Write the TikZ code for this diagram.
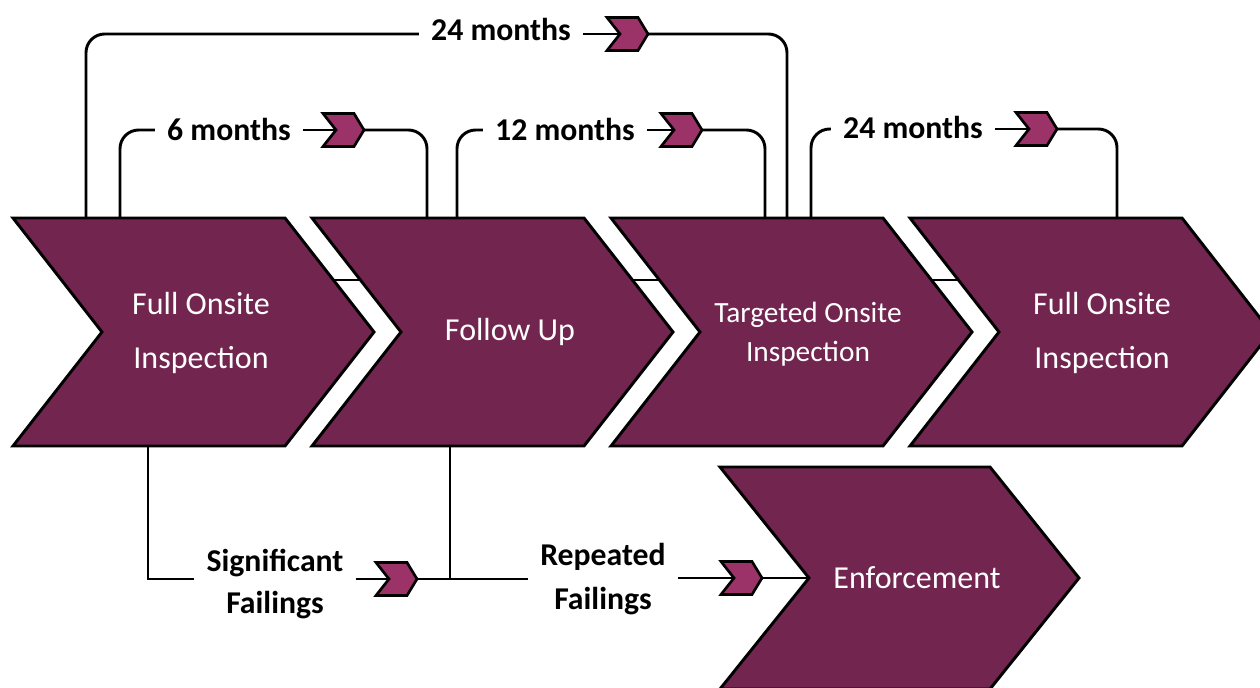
\documentclass[tikz,border=0pt]{standalone}
\usepackage{fontspec}
\setmainfont{Carlito}
\usetikzlibrary{calc}
\definecolor{plum}{HTML}{72264F}
\definecolor{mkcol}{HTML}{9C3368}
\tikzset{
  chev/.style={fill=plum, draw=black, line width=2.2pt, line join=miter},
  mk/.style={fill=mkcol, draw=black, line width=2pt, line join=miter},
  wtxt/.style={text=white, font=\fontsize{24}{40}\selectfont, align=center, inner sep=0pt},
  lbl/.style={text=black, font=\fontsize{23.8}{31.5}\selectfont\bfseries, align=center, inner xsep=9pt, inner ysep=0pt},
  conn/.style={line width=2.2pt, rounded corners=14pt},
  plain/.style={line width=2.2pt},
}
% big chevron: left x, top y, bottom y, flat width, point depth
\newcommand\mychev[5]{\path[chev] (#1,#2) -- ++(#4,0) -- ({#1+#4+#5},{(#2+#3)/2}) -- ({#1+#4},#3) -- (#1,#3) -- ({#1+#5},{(#2+#3)/2}) -- cycle;}
% marker: name, tip x, y
\newcommand\mymark[3]{\path[mk] ({#2-41},{#3-16.5}) -- ({#2-10},{#3-16.5}) -- (#2,#3) -- ({#2-10},{#3+16.5}) -- ({#2-41},{#3+16.5}) -- ({#2-28},#3) -- cycle;
  \coordinate (#1-in) at ({#2-28},#3); \coordinate (#1-out) at (#2,#3);}
\begin{document}
\begin{tikzpicture}[x=0.75pt,y=-0.75pt]
\fill[white] (0,0) rectangle (1260,688);
\clip (0,0) rectangle (1260,688);
% attach points
\coordinate (a24) at (86,218);
\coordinate (a6) at (120,218);
\coordinate (b6) at (427,218);
\coordinate (a12) at (457,218);
\coordinate (b12) at (765,218);
\coordinate (b24) at (787,218);
\coordinate (a24b) at (811,218);
\coordinate (b24b) at (1117,218);
\coordinate (d1) at (148,446);
\coordinate (d2) at (450,446);
\coordinate (j) at (450,579);
\coordinate (enf) at (808,578);
% markers
\mymark{m1}{648}{34}
\mymark{m2}{364}{130}
\mymark{m3}{702}{130}
\mymark{m4}{1057}{129}
\mymark{m5}{417}{579}
\mymark{m6}{762}{578}
% labels
\node[lbl] (l24a) at (501,29) {24 months};
\node[lbl] (l6) at (229,129) {6 months};
\node[lbl] (l12) at (565,129) {12 months};
\node[lbl] (l24b) at (913,127) {24 months};
\node[lbl] (lsig) at (275,584) {Significant\\Failings};
\node[lbl, font=\fontsize{23.8}{33}\selectfont\bfseries] (lrep) at (603,579) {Repeated\\Failings};
% connectors
\draw[conn] (a24) |- (l24a.west |- m1-in);
\draw[plain] (l24a.east |- m1-in) -- (m1-in);
\draw[conn] (m1-out) -| (b24);
\draw[conn] (a6) |- (l6.west |- m2-in);
\draw[plain] (l6.east |- m2-in) -- (m2-in);
\draw[conn] (m2-out) -| (b6);
\draw[conn] (a12) |- (l12.west |- m3-in);
\draw[plain] (l12.east |- m3-in) -- (m3-in);
\draw[conn] (m3-out) -| (b12);
\draw[conn] (a24b) |- (l24b.west |- m4-in);
\draw[plain] (l24b.east |- m4-in) -- (m4-in);
\draw[conn] (m4-out) -| (b24b);
\draw[plain] (d1) |- (lsig.west |- m5-in);
\draw[plain] (lsig.east |- m5-in) -- (m5-in);
\draw[plain] (d2) -- (j);
\draw[plain] (m5-out) -- (j) -- (lrep.west |- j);
\draw[plain] (lrep.east |- m6-in) -- (m6-in);
\draw[plain] (m6-out) -- (enf);
% chevrons
\mychev{13}{218}{446}{272}{89}
\mychev{312}{218}{446}{272}{89}
\mychev{611}{218}{446}{272}{89}
\mychev{910}{218}{446}{272}{89}
\mychev{720}{467}{689}{270}{89}
\foreach \ox in {13,312,611}{\draw[plain] ({\ox+320},280) -- ({\ox+348},280);}
% chevron texts
\node[wtxt] (n1) at (201,333) {Full Onsite\\Inspection};
\node[wtxt] (n2) at (510,332) {Follow Up};
\node[wtxt, font=\fontsize{22}{29}\selectfont] (n3) at (808,334) {Targeted Onsite\\Inspection};
\node[wtxt] (n4) at (1102,333) {Full Onsite\\Inspection};
\node[wtxt] (n5) at (917,578) {Enforcement};
\end{tikzpicture}
\end{document}
